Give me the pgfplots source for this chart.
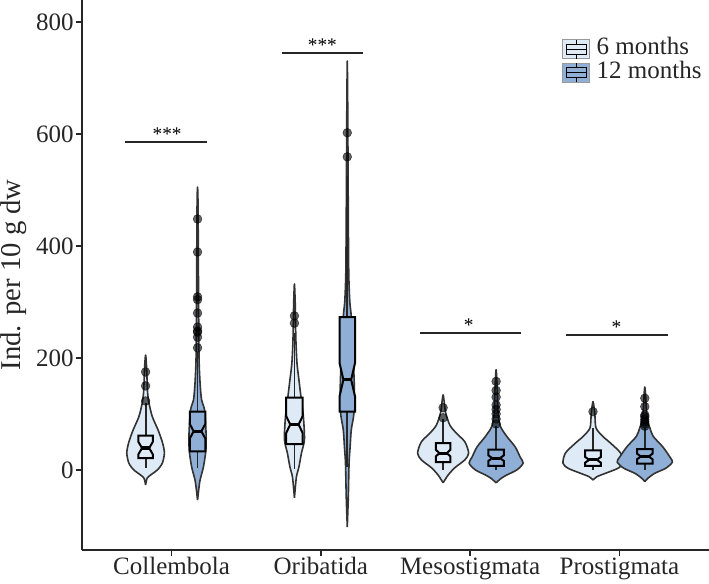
\documentclass[border=0pt]{standalone}
\usepackage{fontspec}
\setmainfont{Liberation Serif}
\usepackage{pgfplots}
\pgfplotsset{compat=1.18}

\definecolor{sixm}{HTML}{DEEBF7}
\definecolor{twelvem}{HTML}{8FAFD7}
\definecolor{vline}{HTML}{333333}

\newcommand{\bigfont}{\fontsize{18.75}{21}\selectfont}

\begin{document}
\begin{tikzpicture}
\begin{axis}[
    name=ax,
    scale only axis,
    width=470.25pt, height=412.5pt,
    xmin=0.4, xmax=4.6, ymin=-143, ymax=839,
    axis lines*=left,
    axis line style={line width=1.1pt, black!85},
    tick align=outside,
    major tick length=4.5pt,
    tick style={line width=1.1pt, black!85},
    xtick={1,2,3,4},
    xticklabels={Collembola,Oribatida,Mesostigmata,Prostigmata},
    ytick={0,200,400,600,800},
    ticklabel style={font=\bigfont, text=black!85},
    /pgf/number format/assume math mode=true,
    yticklabel style={inner xsep=1.5pt},
    xticklabel style={inner ysep=1pt},
    ylabel={Ind. per 10 g dw},
    ylabel style={font=\fontsize{21.5}{24}\selectfont, text=black!85, at={(axis description cs:-0.087,0.5)}, anchor=south, inner sep=0pt},
    legend style={at={(axis description cs:0.7656,0.932)}, anchor=north west,
        draw=none, fill=none, inner sep=0pt, row sep=0pt, column sep=5pt,
        font=\bigfont, text=black!85,
        nodes={inner sep=0pt, text height=13pt, text depth=4.5pt}},
    legend cell align=left,
    violin/.style={draw=vline, line width=1.2pt, line join=round, smooth, tension=0.45, forget plot},
    box/.style={draw=black, line width=1.5pt, line join=miter, forget plot},
    whisk/.style={black!85, line width=1.4pt, forget plot},
    med/.style={black, line width=2.4pt, forget plot},
    outl/.style={only marks, mark=*, mark size=3.3pt, mark options={fill=black, fill opacity=0.6, draw=black, draw opacity=0.6, line width=0.4pt}, forget plot},
    sig/.style={black!85, line width=1.5pt, forget plot},
]

% ---- violins: Collembola
\addplot[violin, fill=sixm] coordinates {
(0.826,-27) (0.836,-15) (0.860,-9) (0.905,0) (0.938,12) (0.952,30) (0.940,48) (0.910,71) (0.871,95) (0.848,120) (0.839,140) (0.834,175) (0.830,195) (0.826,205)
(0.822,195) (0.818,175) (0.813,140) (0.804,120) (0.781,95) (0.742,71) (0.712,48) (0.700,30) (0.714,12) (0.747,0) (0.792,-9) (0.816,-15) (0.826,-27)};
\addplot[violin, fill=twelvem] coordinates {
(1.174,-54) (1.182,-35) (1.191,-18) (1.214,6) (1.230,36) (1.231,66) (1.221,107) (1.201,125) (1.191,155) (1.184,200) (1.181,300) (1.179,400) (1.177,480) (1.174,505)
(1.171,480) (1.169,400) (1.167,300) (1.164,200) (1.157,155) (1.147,125) (1.127,107) (1.117,66) (1.118,36) (1.134,6) (1.157,-18) (1.166,-35) (1.174,-54)};
% ---- violins: Oribatida
\addplot[violin, fill=sixm] coordinates {
(1.823,-50) (1.836,-13) (1.853,5) (1.870,30) (1.890,54) (1.883,95) (1.867,130) (1.853,161) (1.840,191) (1.833,230) (1.830,270) (1.828,300) (1.823,332)
(1.818,300) (1.816,270) (1.813,230) (1.806,191) (1.793,161) (1.779,130) (1.763,95) (1.756,54) (1.776,30) (1.793,5) (1.810,-13) (1.823,-50)};
\addplot[violin, fill=twelvem] coordinates {
(2.177,-102) (2.184,-48) (2.189,12) (2.196,41) (2.204,72) (2.222,102) (2.224,150) (2.217,200) (2.204,273) (2.194,300) (2.187,350) (2.184,450) (2.182,550) (2.180,650) (2.177,730)
(2.174,650) (2.172,550) (2.170,450) (2.167,350) (2.160,300) (2.150,273) (2.137,200) (2.130,150) (2.132,102) (2.150,72) (2.158,41) (2.165,12) (2.170,-48) (2.177,-102)};
% ---- violins: Mesostigmata
\addplot[violin, fill=sixm] coordinates {
(2.819,-23) (2.853,-9) (2.898,4) (2.965,18) (2.990,30) (2.965,50) (2.906,66) (2.864,80) (2.836,102) (2.827,120) (2.819,134)
(2.811,120) (2.802,102) (2.774,80) (2.732,66) (2.673,50) (2.648,30) (2.673,18) (2.740,4) (2.785,-9) (2.819,-23)};
\addplot[violin, fill=twelvem] coordinates {
(3.174,-23) (3.208,-15) (3.246,-9) (3.313,0) (3.355,12) (3.335,23) (3.302,41) (3.248,59) (3.204,77) (3.187,100) (3.184,130) (3.179,160) (3.174,179)
(3.169,160) (3.164,130) (3.161,100) (3.144,77) (3.100,59) (3.046,41) (3.013,23) (2.993,12) (3.035,0) (3.102,-9) (3.140,-15) (3.174,-23)};
% ---- violins: Prostigmata
\addplot[violin, fill=sixm] coordinates {
(3.823,-18) (3.850,-12) (3.907,-6) (3.991,3) (4.024,12) (4.008,30) (3.940,48) (3.888,60) (3.843,75) (3.835,100) (3.823,122)
(3.811,100) (3.803,75) (3.758,60) (3.706,48) (3.638,30) (3.622,12) (3.655,3) (3.739,-6) (3.796,-12) (3.823,-18)};
\addplot[violin, fill=twelvem] coordinates {
(4.170,-21) (4.190,-15) (4.237,-6) (4.311,3) (4.355,14) (4.338,23) (4.291,41) (4.226,60) (4.204,75) (4.187,90) (4.180,110) (4.175,135) (4.170,148)
(4.165,135) (4.160,110) (4.153,90) (4.136,75) (4.114,60) (4.049,41) (4.002,23) (3.985,14) (4.029,3) (4.103,-6) (4.150,-15) (4.170,-21)};

% ---- whiskers
\addplot[whisk] coordinates {(0.826,3) (0.826,120)};
\addplot[whisk] coordinates {(1.174,3) (1.174,210)};
\addplot[whisk] coordinates {(1.823,2) (1.823,245)};
\addplot[whisk] coordinates {(2.177,5) (2.177,525)};
\addplot[whisk] coordinates {(2.819,0) (2.819,90)};
\addplot[whisk] coordinates {(3.174,0) (3.174,78)};
\addplot[whisk] coordinates {(3.823,0) (3.823,75)};
\addplot[whisk] coordinates {(4.170,0) (4.170,75)};

% ---- notched boxes
\addplot[box, fill=sixm] coordinates {(0.778,21) (0.874,21) (0.874,28) (0.850,39) (0.874,50) (0.874,61) (0.778,61) (0.778,50) (0.802,39) (0.778,28)} -- cycle;
\addplot[box, fill=twelvem] coordinates {(1.122,33) (1.226,33) (1.226,56) (1.200,69) (1.226,82) (1.226,104) (1.122,104) (1.122,82) (1.148,69) (1.122,56)} -- cycle;
\addplot[box, fill=sixm] coordinates {(1.768,46) (1.878,46) (1.878,66) (1.851,81) (1.878,96) (1.878,129) (1.768,129) (1.768,96) (1.795,81) (1.768,66)} -- cycle;
\addplot[box, fill=twelvem] coordinates {(2.125,104) (2.229,104) (2.229,131) (2.203,161) (2.229,191) (2.229,273) (2.125,273) (2.125,191) (2.151,161) (2.125,131)} -- cycle;
\addplot[box, fill=sixm] coordinates {(2.770,14) (2.868,14) (2.868,24) (2.844,30) (2.868,36) (2.868,48) (2.770,48) (2.770,36) (2.794,30) (2.770,24)} -- cycle;
\addplot[box, fill=twelvem] coordinates {(3.122,7) (3.226,7) (3.226,16) (3.200,21) (3.226,26) (3.226,36) (3.122,36) (3.122,26) (3.148,21) (3.122,16)} -- cycle;
\addplot[box, fill=sixm] coordinates {(3.771,7) (3.875,7) (3.875,13) (3.849,18) (3.875,23) (3.875,35) (3.771,35) (3.771,23) (3.797,18) (3.771,13)} -- cycle;
\addplot[box, fill=twelvem] coordinates {(4.118,11) (4.222,11) (4.222,19) (4.196,24) (4.222,29) (4.222,37) (4.118,37) (4.118,29) (4.144,24) (4.118,19)} -- cycle;

% ---- medians
\addplot[med] coordinates {(0.802,39) (0.850,39)};
\addplot[med] coordinates {(1.148,69) (1.200,69)};
\addplot[med] coordinates {(1.795,81) (1.851,81)};
\addplot[med] coordinates {(2.151,161) (2.203,161)};
\addplot[med] coordinates {(2.794,30) (2.844,30)};
\addplot[med] coordinates {(3.148,21) (3.200,21)};
\addplot[med] coordinates {(3.797,18) (3.849,18)};
\addplot[med] coordinates {(4.144,24) (4.196,24)};

% ---- outliers
\addplot[outl] coordinates {(0.826,123) (0.826,150) (0.826,175)};
\addplot[outl] coordinates {(1.174,218) (1.174,237) (1.174,246) (1.174,248) (1.174,255) (1.174,280) (1.174,304) (1.174,309) (1.174,389) (1.174,448)};
\addplot[outl] coordinates {(1.823,262) (1.823,275)};
\addplot[outl] coordinates {(2.177,559) (2.177,602)};
\addplot[outl] coordinates {(2.819,93) (2.819,111)};
\addplot[outl] coordinates {(3.174,82) (3.174,91) (3.174,100) (3.174,108) (3.174,116) (3.174,130) (3.174,142) (3.174,158)};
\addplot[outl] coordinates {(3.823,104)};
\addplot[outl] coordinates {(4.170,78) (4.170,82) (4.170,86) (4.170,90) (4.170,95) (4.170,98) (4.170,113) (4.170,128)};

% ---- significance
\addplot[sig] coordinates {(0.690,586) (1.235,586)};
\addplot[sig] coordinates {(1.738,745) (2.282,745)};
\addplot[sig] coordinates {(2.664,245) (3.342,245)};
\addplot[sig] coordinates {(3.644,241) (4.322,241)};
\node[anchor=base, font=\fontsize{14.5}{14}\selectfont] at (axis cs:0.97,588) {***};
\node[anchor=base, font=\fontsize{14.5}{14}\selectfont] at (axis cs:2.01,747) {***};
\node[anchor=base, font=\fontsize{14.5}{14}\selectfont] at (axis cs:2.99,247) {*};
\node[anchor=base, font=\fontsize{14.5}{14}\selectfont] at (axis cs:3.98,243) {*};

% ---- legend
\addlegendimage{legend image code/.code={
  \draw[draw=gray!80, fill=sixm, line width=0.8pt] (0pt,-7.1pt) rectangle (20pt,7.1pt);
  \draw[black, line width=0.9pt] (10pt,-7.1pt) -- (10pt,7.1pt);
  \draw[black, fill=sixm, line width=0.9pt] (2.5pt,-3.6pt) rectangle (17.5pt,3.6pt);
  \draw[black, line width=0.9pt] (2.5pt,0pt) -- (17.5pt,0pt);}}
\addlegendentry{6 months}
\addlegendimage{legend image code/.code={
  \draw[draw=gray!80, fill=twelvem, line width=0.8pt] (0pt,-7.1pt) rectangle (20pt,7.1pt);
  \draw[black, line width=0.9pt] (10pt,-7.1pt) -- (10pt,7.1pt);
  \draw[black, fill=twelvem, line width=0.9pt] (2.5pt,-3.6pt) rectangle (17.5pt,3.6pt);
  \draw[black, line width=0.9pt] (2.5pt,0pt) -- (17.5pt,0pt);}}
\addlegendentry{12 months}
\end{axis}
\pgfresetboundingbox
\path ([shift={(-61.5pt,-25.5pt)}]ax.south west) rectangle (ax.north east);
\end{tikzpicture}
\end{document}
